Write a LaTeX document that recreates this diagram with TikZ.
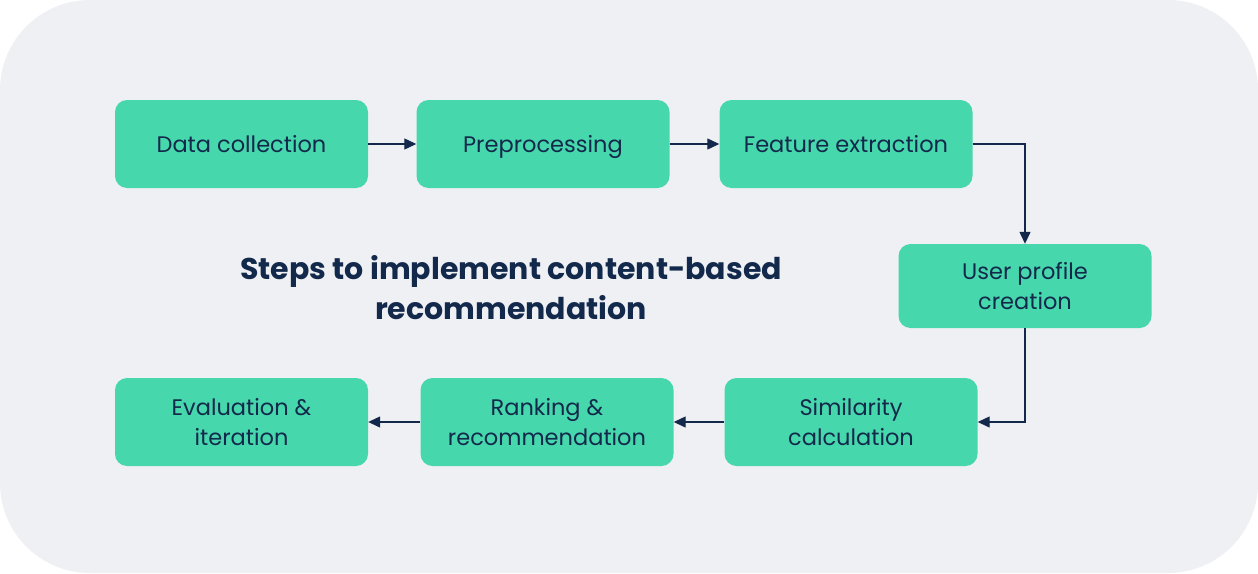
\documentclass[tikz,border=0pt]{standalone}
\usepackage{fontspec}
\setmainfont{Poppins}
\usetikzlibrary{arrows.meta}
\definecolor{bgc}{HTML}{EFF0F4}
\definecolor{boxc}{HTML}{47D7AC}
\definecolor{navy}{HTML}{13294B}
\tikzset{
  stepbox/.style={fill=boxc, draw=none, rounded corners=12pt, minimum width=253pt, minimum height=88pt, align=center, text=navy, font=\fontsize{22.5}{30}\selectfont, inner sep=0pt},
  oneline/.style={text height=19pt, text depth=3pt},
  conn/.style={draw=navy, line width=1.2pt, -{Triangle[length=12pt,width=11pt]}}
}
\begin{document}
\begin{tikzpicture}[x=1pt,y=-1pt]
\useasboundingbox (0,0) rectangle (1258,573);
\fill[bgc, rounded corners=90pt] (0,0) rectangle (1258,573);
\node[stepbox, oneline] (dc) at (241.5,144) {Data collection};
\node[stepbox, oneline] (pp) at (543,144) {Preprocessing};
\node[stepbox, oneline] (fe) at (846,144) {Feature extraction};
\node[stepbox, minimum height=84pt] (up) at (1025,286) {User profile\\creation};
\node[stepbox] (sc) at (851,422) {Similarity\\calculation};
\node[stepbox] (rr) at (547,422) {Ranking \&\\recommendation};
\node[stepbox] (ev) at (241.5,422) {Evaluation \&\\iteration};
\node[text=navy, align=center, font=\fontsize{30}{40}\selectfont\bfseries] (title) at (511,288) {Steps to implement content-based\\recommendation};
\draw[conn] (dc) -- (pp);
\draw[conn] (pp) -- (fe);
\draw[conn] (fe.east) -| (up.north);
\draw[conn] (up.south) |- (sc.east);
\draw[conn] (sc) -- (rr);
\draw[conn] (rr) -- (ev);
\end{tikzpicture}
\end{document}
